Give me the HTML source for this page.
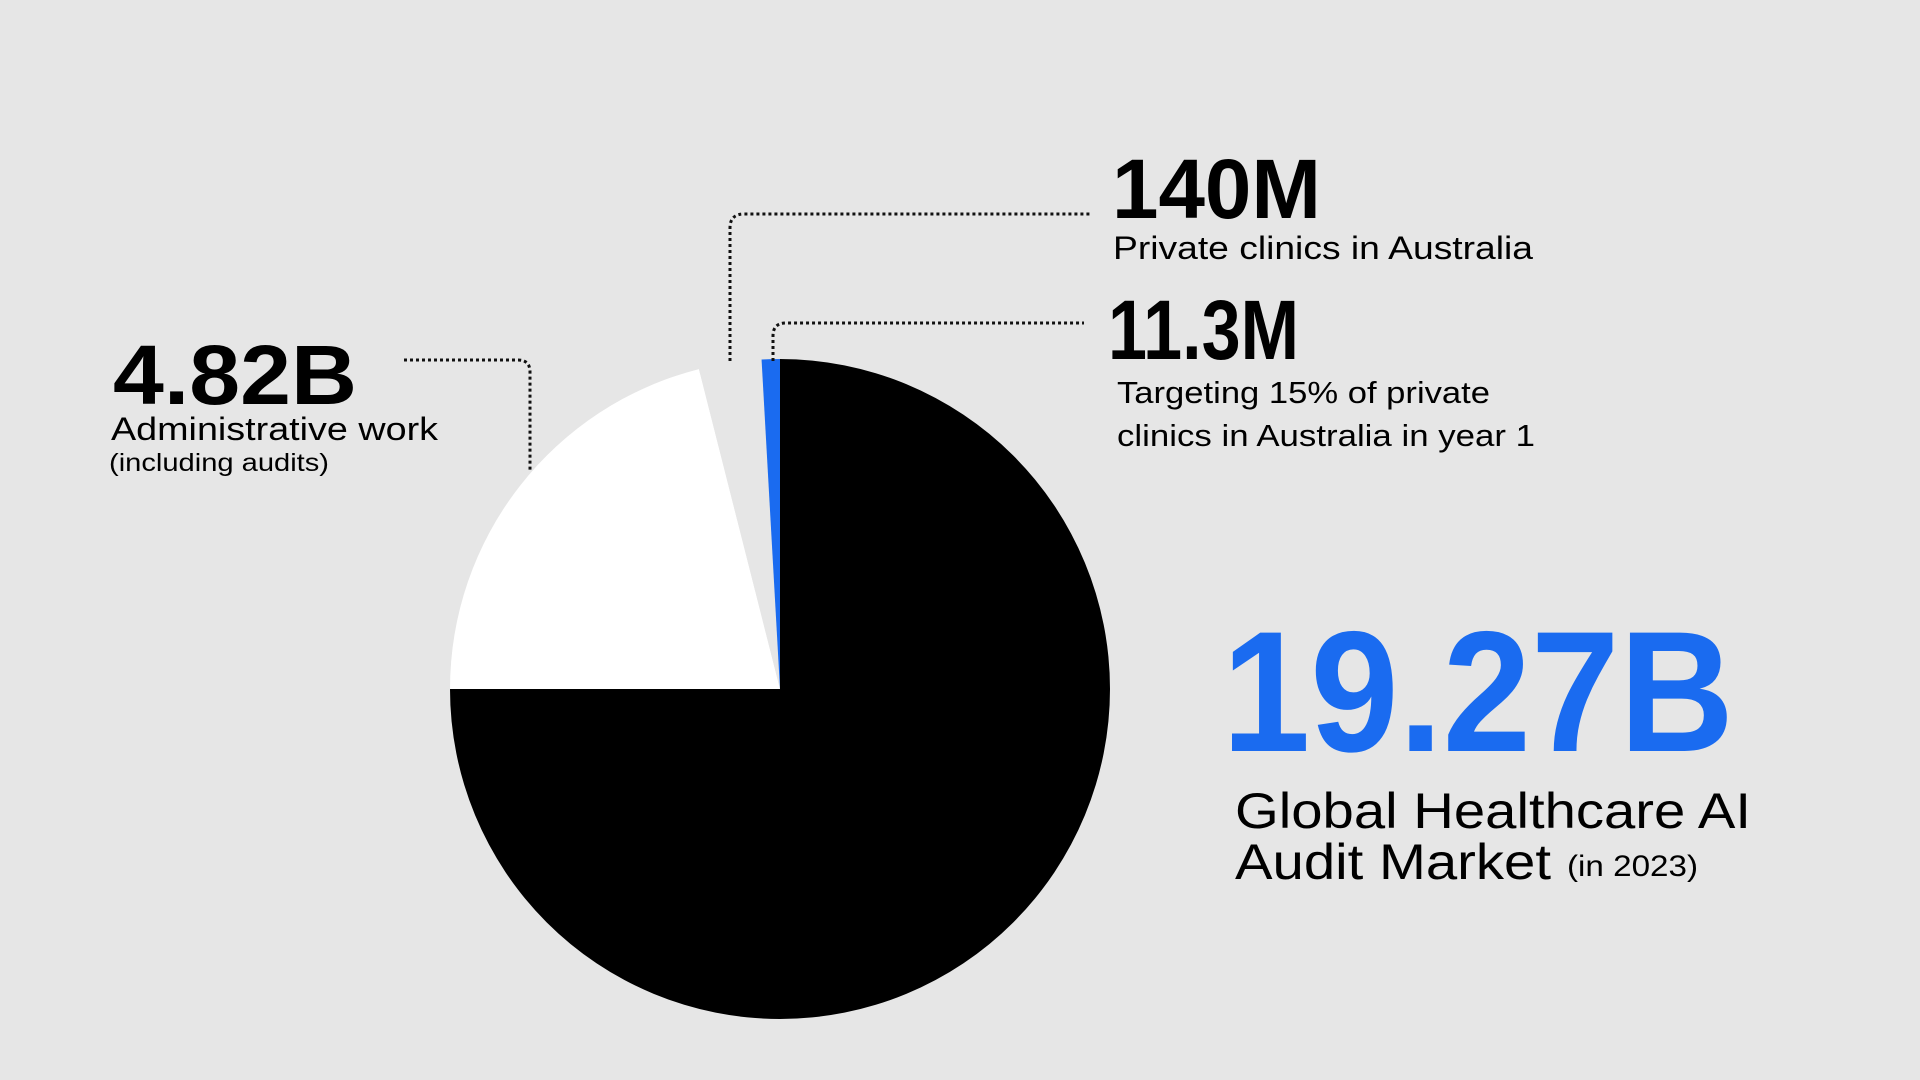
<!DOCTYPE html>
<html><head><meta charset="utf-8">
<style>
html,body{margin:0;padding:0;background:#e6e6e6;}
svg{display:block;}
text{font-family:"Liberation Sans",sans-serif;fill:#000;}
</style></head>
<body>
<svg id="chart" width="1920" height="1080" viewBox="0 0 1920 1080">
<rect width="1920" height="1080" fill="#e6e6e6"/>
<g id="pie"></g>
<g fill="none" stroke="#111" stroke-width="3" stroke-dasharray="3 3">
<path d="M404 360 H518 Q530 360 530 372 V471"/>
<path d="M730 361 V228 Q730 214 744 214 H1092"/>
<path d="M773 361 V336 Q773 323 786 323 H1084"/>
</g>
<text x="113" y="404" font-size="84" font-weight="bold" textLength="244" lengthAdjust="spacingAndGlyphs">4.82B</text>
<text x="111" y="440" font-size="32" textLength="327" lengthAdjust="spacingAndGlyphs">Administrative work</text>
<text x="109" y="471" font-size="25" textLength="220" lengthAdjust="spacingAndGlyphs">(including audits)</text>
<text x="1112" y="218" font-size="84" font-weight="bold" textLength="209" lengthAdjust="spacingAndGlyphs">140M</text>
<text x="1113" y="259" font-size="32" textLength="420" lengthAdjust="spacingAndGlyphs">Private clinics in Australia</text>
<text x="1108" y="359" font-size="84" font-weight="bold" textLength="191" lengthAdjust="spacingAndGlyphs">11.3M</text>
<text x="1117" y="403" font-size="31" textLength="373" lengthAdjust="spacingAndGlyphs">Targeting 15% of private</text>
<text x="1117" y="446" font-size="31" textLength="418" lengthAdjust="spacingAndGlyphs">clinics in Australia in year 1</text>
<text x="1222" y="751" font-size="172" font-weight="bold" fill="#1a6bf0" style="fill:#1a6bf0" textLength="512" lengthAdjust="spacingAndGlyphs">19.27B</text>
<text x="1235" y="828" font-size="50" textLength="516" lengthAdjust="spacingAndGlyphs">Global Healthcare AI</text>
<text x="1235" y="879" font-size="50" textLength="316" lengthAdjust="spacingAndGlyphs">Audit Market</text>
<text x="1567" y="876" font-size="30" textLength="131" lengthAdjust="spacingAndGlyphs">(in 2023)</text>
</svg>
<script>
// slice shares (percent of full circle), clockwise from 12 o'clock
const sliceNames = ["rest-of-market", "administrative-work", "private-clinics", "target-clinics"];
const sliceValues = [75.0, 21.05, 3.06, 0.89];
const sliceColors = ["#000000", "#ffffff", "#e6e6e6", "#1a6bf0"];

const cx = 780, cy = 689, r = 330;
const total = sliceValues.reduce((a, b) => a + b, 0);
function angleOf(v) { return v / total * Math.PI * 2; }
function pt(a) { return [cx + r * Math.sin(a), cy - r * Math.cos(a)]; }
const pie = document.getElementById('pie');
let start = 0;
sliceValues.forEach((v, i) => {
  const end = start + angleOf(v);
  const [x1, y1] = pt(start), [x2, y2] = pt(end);
  const large = end - start > Math.PI ? 1 : 0;
  const p = document.createElementNS('http://www.w3.org/2000/svg', 'path');
  p.setAttribute('d', `M${cx} ${cy} L${x1} ${y1} A${r} ${r} 0 ${large} 1 ${x2} ${y2} Z`);
  p.setAttribute('fill', sliceColors[i]);
  
  
  pie.appendChild(p);
  start = end;
});
</script>
</body></html>
